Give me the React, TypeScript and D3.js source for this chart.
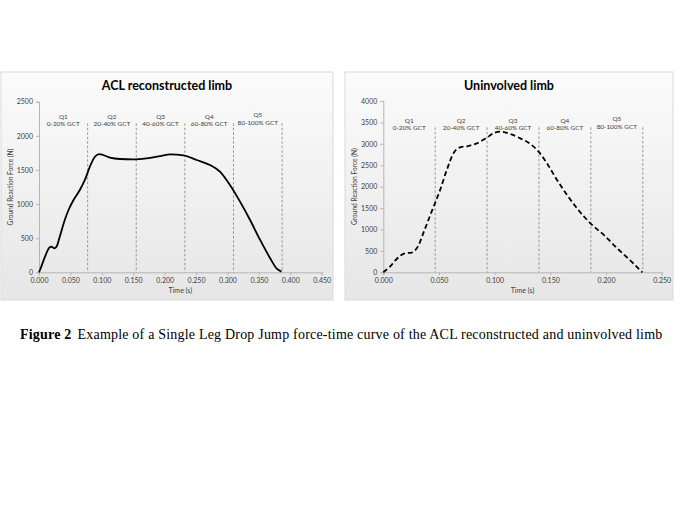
import React, { useEffect, useRef } from "react";
import * as d3 from "d3";

// ACL reconstructed limb (time s, force N)
const aclTime = [0, 0.0016, 0.0096, 0.0165, 0.02, 0.024, 0.028, 0.033, 0.041, 0.047, 0.055, 0.065, 0.073, 0.081, 0.089, 0.096, 0.102, 0.113, 0.129, 0.15, 0.171, 0.193, 0.209, 0.23, 0.251, 0.272, 0.288, 0.304, 0.32, 0.336, 0.352, 0.368, 0.378, 0.386];
const aclForce = [0, 34, 230, 361, 376, 352, 376, 522, 767, 913, 1060, 1206, 1353, 1548, 1694, 1733, 1719, 1680, 1660, 1655, 1670, 1704, 1729, 1714, 1646, 1572, 1475, 1279, 1035, 767, 474, 205, 59, 10];

// Uninvolved limb
const uniTime = [0, 0.006, 0.012, 0.0195, 0.0254, 0.031, 0.037, 0.0434, 0.051, 0.057, 0.063, 0.069, 0.076, 0.084, 0.093, 0.1, 0.106, 0.114, 0.123, 0.132, 0.1395, 0.147, 0.156, 0.165, 0.174, 0.186, 0.198, 0.21, 0.222, 0.229, 0.2326];
const uniForce = [0, 132, 311, 444, 459, 599, 988, 1416, 1922, 2389, 2778, 2918, 2949, 3012, 3144, 3261, 3284, 3229, 3128, 2996, 2817, 2545, 2156, 1805, 1494, 1144, 872, 560, 272, 93, 0];

const quintileNames = ["Q1", "Q2", "Q3", "Q4", "Q5"];
const quintileRanges = ["0-20% GCT", "20-40% GCT", "40-60% GCT", "60-80% GCT", "80-100% GCT"];

const aclGct = 0.387;
const uniGct = 0.233;

const aclXTicks = [0, 0.05, 0.1, 0.15, 0.2, 0.25, 0.3, 0.35, 0.4, 0.45];
const aclYTicks = [0, 500, 1000, 1500, 2000, 2500];
const uniXTicks = [0, 0.05, 0.1, 0.15, 0.2, 0.25];
const uniYTicks = [0, 500, 1000, 1500, 2000, 2500, 3000, 3500, 4000];

const FONT = "Lato, 'Open Sans', sans-serif";

interface PanelOpts {
  title: string;
  box: { x: number; y: number; w: number; h: number };
  plot: { left: number; right: number; top: number; bottom: number };
  xMax: number;
  yMax: number;
  xTicks: number[];
  yTicks: number[];
  time: number[];
  force: number[];
  gct: number;
  dashed: boolean;
  labelY: number;
}

function drawPanel(svg: d3.Selection<SVGSVGElement, unknown, null, undefined>, o: PanelOpts) {
  const g = svg.append("g");

  g.append("rect")
    .attr("x", o.box.x)
    .attr("y", o.box.y)
    .attr("width", o.box.w)
    .attr("height", o.box.h)
    .attr("fill", "url(#bg)")
    .attr("stroke", "#d9d9d9")
    .attr("stroke-width", 1);

  const x = d3.scaleLinear().domain([0, o.xMax]).range([o.plot.left, o.plot.right]);
  const y = d3.scaleLinear().domain([0, o.yMax]).range([o.plot.bottom, o.plot.top]);

  // axes
  const xAxis = g
    .append("g")
    .attr("transform", `translate(0,${o.plot.bottom})`)
    .call(d3.axisBottom(x).tickValues(o.xTicks).tickFormat(d3.format(".3f")).tickSizeOuter(0).tickSize(3));
  const yAxis = g
    .append("g")
    .attr("transform", `translate(${o.plot.left},0)`)
    .call(d3.axisLeft(y).tickValues(o.yTicks).tickFormat(d3.format("d")).tickSizeOuter(0).tickSize(3));
  [xAxis, yAxis].forEach((a) => {
    a.select(".domain").attr("stroke", "#b5b5b5");
    a.selectAll(".tick line").attr("stroke", "#b5b5b5");
    a.selectAll(".tick text")
      .attr("fill", "#404040")
      .style("font-family", FONT)
      .style("font-size", "7px");
  });

  // quintile dividers and labels
  const step = o.gct / 5;
  d3.range(5).forEach((i) => {
    const xr = x(step * (i + 1));
    g.append("line")
      .attr("x1", xr)
      .attr("x2", xr)
      .attr("y1", o.labelY)
      .attr("y2", o.plot.bottom)
      .attr("stroke", "#8c8c8c")
      .attr("stroke-width", 0.9)
      .attr("stroke-dasharray", "2.5,2");
    const xc = x(step * (i + 0.5));
    const lift = i === 4 ? 1.5 : 0;
    g.append("text")
      .attr("x", xc)
      .attr("y", o.labelY - 4.5 - lift)
      .attr("text-anchor", "middle")
      .attr("fill", "#404040")
      .style("font-family", FONT)
      .style("font-size", "6.4px")
      .text(quintileNames[i]);
    g.append("text")
      .attr("x", xc)
      .attr("y", o.labelY + 3 - lift)
      .attr("text-anchor", "middle")
      .attr("fill", "#404040")
      .style("font-family", FONT)
      .style("font-size", "6.4px")
      .text(quintileRanges[i]);
  });

  // curve
  const pts = o.time.map((t, i) => [t, o.force[i]] as [number, number]);
  const line = d3
    .line<[number, number]>()
    .x((d) => x(d[0]))
    .y((d) => y(d[1]))
    .curve(d3.curveMonotoneX);
  g.append("path")
    .datum(pts)
    .attr("fill", "none")
    .attr("stroke", "#000")
    .attr("stroke-width", 1.8)
    .attr("stroke-dasharray", o.dashed ? "5,3" : null)
    .attr("d", line);

  // title
  g.append("text")
    .attr("x", o.box.x + o.box.w / 2)
    .attr("y", o.box.y + 18)
    .attr("text-anchor", "middle")
    .attr("fill", "#000")
    .style("font-family", FONT)
    .style("font-weight", "bold")
    .style("font-size", "12.5px")
    .text(o.title);

  // axis titles
  g.append("text")
    .attr("x", (o.plot.left + o.plot.right) / 2)
    .attr("y", o.plot.bottom + 21)
    .attr("text-anchor", "middle")
    .attr("fill", "#404040")
    .style("font-family", FONT)
    .style("font-size", "7px")
    .text("Time (s)");
  g.append("text")
    .attr("transform", `translate(${o.box.x + 11.5},${(o.plot.top + o.plot.bottom) / 2}) rotate(-90)`)
    .attr("text-anchor", "middle")
    .attr("fill", "#404040")
    .style("font-family", FONT)
    .style("font-size", "6.6px")
    .text("Ground Reaction Force (N)");
}

export default function App() {
  const svgRef = useRef<SVGSVGElement>(null);

  useEffect(() => {
    document.body.style.margin = "0";
    if (!svgRef.current) return;
    const svg = d3.select(svgRef.current);
    svg.selectAll("*").remove();

    const defs = svg.append("defs");
    const grad = defs
      .append("linearGradient")
      .attr("id", "bg")
      .attr("x1", "0")
      .attr("y1", "0")
      .attr("x2", "0")
      .attr("y2", "1");
    grad.append("stop").attr("offset", "0%").attr("stop-color", "#fbfbfb");
    grad.append("stop").attr("offset", "100%").attr("stop-color", "#e6e6e6");

    drawPanel(svg, {
      title: "ACL reconstructed limb",
      box: { x: 1, y: 72, w: 332, h: 228 },
      plot: { left: 39, right: 321.7, top: 101.7, bottom: 272.3 },
      xMax: 0.45,
      yMax: 2500,
      xTicks: aclXTicks,
      yTicks: aclYTicks,
      time: aclTime,
      force: aclForce,
      gct: aclGct,
      dashed: false,
      labelY: 123.3,
    });

    drawPanel(svg, {
      title: "Uninvolved limb",
      box: { x: 345, y: 72, w: 328, h: 228 },
      plot: { left: 383.3, right: 661.7, top: 101, bottom: 272.3 },
      xMax: 0.25,
      yMax: 4000,
      xTicks: uniXTicks,
      yTicks: uniYTicks,
      time: uniTime,
      force: uniForce,
      gct: uniGct,
      dashed: true,
      labelY: 127.3,
    });

    // caption
    const cap = svg
      .append("text")
      .attr("x", 20)
      .attr("y", 339)
      .attr("fill", "#000")
      .style("font-family", "'Liberation Serif', 'Times New Roman', serif")
      .style("font-size", "14px")
      .style("letter-spacing", "0.2px");
    cap.append("tspan").style("font-weight", "bold").text("Figure 2");
    cap.append("tspan").attr("dx", 6).text("Example of a Single Leg Drop Jump force-time curve of the ACL reconstructed and uninvolved limb");
  }, []);

  return <svg ref={svgRef} width={680} height={510} style={{ display: "block", background: "#fff" }} />;
}
